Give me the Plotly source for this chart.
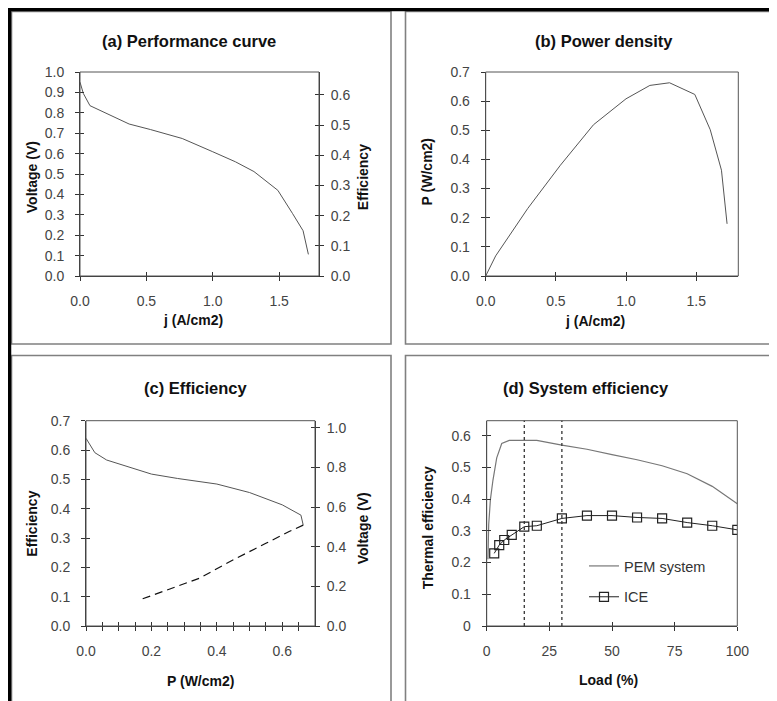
import plotly.graph_objects as go

# The page body has an 8px margin, so the figure is drawn 8px in from the window corner.
OFF = 8
W, H = 777 - OFF, 701 - OFF

# ---------------- data ----------------
# (a) performance curve: voltage vs current density
j_perf = [0.0, 0.025, 0.075, 0.37, 0.53, 0.77, 1.0, 1.17, 1.31, 1.49, 1.60, 1.68, 1.72]
voltage_perf = [0.95, 0.895, 0.835, 0.745, 0.718, 0.674, 0.609, 0.56, 0.512, 0.42, 0.307, 0.222, 0.106]

# (b) power density vs current density
j_power = [0.0, 0.071, 0.30, 0.532, 0.768, 1.0, 1.17, 1.31, 1.49, 1.60, 1.68, 1.72]
p_power = [0.0, 0.069, 0.232, 0.38, 0.519, 0.608, 0.654, 0.663, 0.623, 0.502, 0.363, 0.179]

# (c) efficiency vs power density (upper branch solid, lower branch dashed)
p_eff_upper = [0.0, 0.027, 0.063, 0.2, 0.28, 0.4, 0.5, 0.6, 0.657, 0.664]
eff_upper = [0.64, 0.591, 0.566, 0.518, 0.503, 0.484, 0.455, 0.413, 0.378, 0.344]
p_eff_lower = [0.664, 0.621, 0.55, 0.449, 0.347, 0.276, 0.164]
eff_lower = [0.344, 0.322, 0.282, 0.225, 0.163, 0.134, 0.089]

# (d) system efficiency vs load
load_pem = [0.5, 0.8, 1.5, 2.5, 4, 6, 9, 15, 20, 30, 40, 50, 60, 70, 80, 90, 100]
eff_pem = [0.21, 0.32, 0.40, 0.46, 0.53, 0.575, 0.585, 0.585, 0.585, 0.57, 0.557, 0.54,
           0.524, 0.505, 0.48, 0.44, 0.385]
load_ice = [3, 5, 7, 10, 15, 20, 30, 40, 50, 60, 70, 80, 90, 100]
eff_ice = [0.229, 0.255, 0.271, 0.287, 0.313, 0.316, 0.339, 0.348, 0.348, 0.342, 0.339,
           0.326, 0.316, 0.303]
marked_loads = [15, 30]

# tick labels
ticks_j = [0.0, 0.5, 1.0, 1.5]
ticks_voltage_a = [0.0, 0.1, 0.2, 0.3, 0.4, 0.5, 0.6, 0.7, 0.8, 0.9, 1.0]
ticks_eff_a = [0.0, 0.1, 0.2, 0.3, 0.4, 0.5, 0.6]
ticks_power_b = [0.0, 0.1, 0.2, 0.3, 0.4, 0.5, 0.6, 0.7]
ticks_p_c = [0.0, 0.2, 0.4, 0.6]
ticks_p_c_all = [0.0, 0.05, 0.1, 0.15, 0.2, 0.25, 0.3, 0.35, 0.4, 0.45, 0.5, 0.55, 0.6, 0.65]
ticks_eff_c = [0.0, 0.1, 0.2, 0.3, 0.4, 0.5, 0.6, 0.7]
ticks_voltage_c = [0.0, 0.2, 0.4, 0.6, 0.8, 1.0]
ticks_load = [0, 25, 50, 75, 100]
ticks_thermal = [0, 0.1, 0.2, 0.3, 0.4, 0.5, 0.6]

# ---------------- styling ----------------
FONT = "Liberation Sans, Arial, sans-serif"
AX = "#333333"
TICKFONT = dict(family=FONT, size=14, color="#444444")


def fx(p):
    return (p - OFF) / W


def fy(p):
    return 1 - (p - OFF) / H


def main_axis(rng, dom, anchor, tickvals, fmt=None, side=None, overlaying=None,
              standoff=7, minor=None):
    d = dict(range=rng, domain=dom, anchor=anchor, showline=True, linecolor=AX,
             linewidth=1, ticks="outside", ticklen=4, tickwidth=1,
             tickcolor=AX, showgrid=False, zeroline=False, tickfont=TICKFONT,
             tickmode="array", tickvals=tickvals, fixedrange=True, automargin=False,
             ticklabelstandoff=standoff)
    if fmt:
        d["tickformat"] = fmt
    if side:
        d["side"] = side
    if overlaying:
        d["overlaying"] = overlaying
    if minor:
        d["minor"] = minor
    return d


def twin_axis(rng, anchor, overlaying, tickvals, side=None):
    d = dict(range=rng, anchor=anchor, overlaying=overlaying, showline=False,
             ticks="inside", ticklen=4, tickwidth=1, tickcolor=AX,
             showticklabels=False, showgrid=False, zeroline=False, automargin=False,
             tickmode="array", tickvals=tickvals, fixedrange=True)
    if side:
        d["side"] = side
    return d


# pixel geometry of the four plot areas
A_X = [fx(80), fx(319)]
A_Y = [fy(276), fy(72)]
B_X = [fx(485.7), fx(738.3)]
B_Y = [fy(276), fy(72)]
C_X = [fx(86), fx(315)]
C_Y = [fy(626), fy(420.7)]
D_X = [fx(486.7), fx(737.3)]
D_Y = [fy(626), fy(420.7)]

R_J = [0, 1.8]
R_VA = [0, 1.0]
R_EA = [0, 0.676]
R_PB = [0, 0.7]
R_PC = [0, 0.7]
R_EC = [0, 0.7]
R_VC = [0, 1.036]
R_L = [0, 100]
R_T = [0, 0.647]

layout = dict(
    template="none",
    width=W, height=H, margin=dict(l=0, r=0, t=0, b=0, autoexpand=False),
    paper_bgcolor="white", plot_bgcolor="white",
    font=dict(family=FONT, color="#222"),
    # panel (a)
    xaxis=main_axis(R_J, A_X, "y", ticks_j, ".1f", standoff=8),
    yaxis=main_axis(R_VA, A_Y, "x", ticks_voltage_a, ".1f", standoff=8),
    yaxis2=main_axis(R_EA, A_Y, "x", ticks_eff_a, ".1f", side="right", overlaying="y", standoff=4),
    # panel (b)
    xaxis2=main_axis(R_J, B_X, "y3", ticks_j, ".1f", standoff=8),
    yaxis3=main_axis(R_PB, B_Y, "x2", ticks_power_b, ".1f", standoff=8),
    # panel (c)
    xaxis3=main_axis(R_PC, C_X, "y4", ticks_p_c, ".1f", standoff=8,
                     minor=dict(tickmode="array", tickvals=ticks_p_c_all, ticks="outside",
                                ticklen=4, tickcolor=AX, tickwidth=1)),
    yaxis4=main_axis(R_EC, C_Y, "x3", ticks_eff_c, ".1f", standoff=8),
    yaxis5=main_axis(R_VC, C_Y, "x3", ticks_voltage_c, ".1f", side="right", overlaying="y4", standoff=4),
    # panel (d)
    xaxis4=main_axis(R_L, D_X, "y6", ticks_load, standoff=8),
    yaxis6=main_axis(R_T, D_Y, "x4", ticks_thermal, standoff=8),
    # inside halves of the crossing tick marks
    xaxis5=twin_axis(R_J, "y", "x", ticks_j),
    yaxis7=twin_axis(R_VA, "x", "y", ticks_voltage_a),
    yaxis8=twin_axis(R_EA, "x", "y", ticks_eff_a, side="right"),
    xaxis6=twin_axis(R_J, "y3", "x2", ticks_j),
    yaxis9=twin_axis(R_PB, "x2", "y3", ticks_power_b),
    xaxis7=twin_axis(R_PC, "y4", "x3", ticks_p_c_all),
    yaxis10=twin_axis(R_EC, "x3", "y4", ticks_eff_c),
    yaxis11=twin_axis(R_VC, "x3", "y4", ticks_voltage_c, side="right"),
    xaxis8=twin_axis(R_L, "y6", "x4", ticks_load),
    yaxis12=twin_axis(R_T, "x4", "y6", ticks_thermal),
    showlegend=True,
    hovermode="closest",
    legend=dict(x=fx(584), y=fy(550), xanchor="left", yanchor="top",
                bgcolor="rgba(0,0,0,0)", borderwidth=0, tracegroupgap=9,
                font=dict(family=FONT, size=14.5, color="#333"),
                itemwidth=30),
)

fig = go.Figure(layout=layout)

# ---- data traces ----
fig.add_trace(go.Scatter(x=j_perf, y=voltage_perf, mode="lines", xaxis="x", yaxis="y",
                         line=dict(color="#555", width=1), showlegend=False))
fig.add_trace(go.Scatter(x=j_power, y=p_power, mode="lines", xaxis="x2", yaxis="y3",
                         line=dict(color="#555", width=1), showlegend=False))
fig.add_trace(go.Scatter(x=p_eff_upper, y=eff_upper, mode="lines", xaxis="x3", yaxis="y4",
                         line=dict(color="#555", width=1), showlegend=False))
fig.add_trace(go.Scatter(x=p_eff_lower, y=eff_lower, mode="lines", xaxis="x3", yaxis="y4",
                         line=dict(color="#111", width=1.2, dash="8px,5px"), showlegend=False))
fig.add_trace(go.Scatter(x=load_pem, y=eff_pem, mode="lines", xaxis="x4", yaxis="y6",
                         name="PEM system", legendgroup="pem",
                         line=dict(color="#777", width=1.2)))
fig.add_trace(go.Scatter(x=load_ice, y=eff_ice, mode="lines+markers", xaxis="x4", yaxis="y6",
                         name="ICE", legendgroup="ice",
                         line=dict(color="#222", width=1),
                         marker=dict(symbol="square-open", size=9, color="#222",
                                     line=dict(width=1.2, color="#222"))))

# empty traces so that every secondary / twin axis gets its subplot
for xa, ya in [("x", "y2"), ("x5", "y"), ("x", "y7"), ("x", "y8"),
               ("x6", "y3"), ("x2", "y9"),
               ("x3", "y5"), ("x7", "y4"), ("x3", "y10"), ("x3", "y11"),
               ("x8", "y6"), ("x4", "y12")]:
    fig.add_trace(go.Scatter(x=[None], y=[None], xaxis=xa, yaxis=ya, mode="lines",
                             showlegend=False, hoverinfo="skip"))

# ---- plot-area boxes ----
for xa, ya in [("x", "y"), ("x2", "y3"), ("x3", "y4"), ("x4", "y6")]:
    fig.add_shape(type="rect", xref=xa + " domain", yref=ya + " domain",
                  x0=0, x1=1, y0=0, y1=1, line=dict(color="#555", width=1),
                  fillcolor="rgba(0,0,0,0)")

# ---- dotted marker lines in panel (d) ----
for L in marked_loads:
    fig.add_shape(type="line", xref="x4", yref="y6 domain", x0=L, x1=L, y0=0, y1=1,
                  line=dict(color="#333", width=1.3, dash="dot"))

# ---- panel frames ----
frames = [(11.5, 11.5, 391, 344), (405.5, 11.5, 800, 344),
          (11.5, 355.5, 391, 720), (405.5, 355.5, 800, 720)]
for x0, y0, x1, y1 in frames:
    fig.add_shape(type="rect", xref="paper", yref="paper",
                  x0=fx(x0), x1=fx(x1), y0=fy(y1), y1=fy(y0),
                  line=dict(color="#808080", width=1.6), fillcolor="rgba(0,0,0,0)",
                  layer="below")
fig.add_shape(type="line", xref="paper", yref="paper", x0=fx(8), x1=fx(790),
              y0=fy(9.5), y1=fy(9.5), line=dict(color="black", width=3.5))
fig.add_shape(type="line", xref="paper", yref="paper", x0=fx(9.5), x1=fx(9.5),
              y0=fy(8), y1=fy(720), line=dict(color="black", width=3.5))

# ---- text: panel titles and axis titles ----
def note(text, x, y, size=14, angle=0):
    fig.add_annotation(text="<b>%s</b>" % text, xref="paper", yref="paper",
                       x=fx(x), y=fy(y), xanchor="center", yanchor="middle",
                       showarrow=False, textangle=angle,
                       font=dict(family=FONT, size=size, color="#111"))

note("(a) Performance curve", 189, 41, 16.5)
note("(b) Power density", 604, 41, 16.5)
note("(c) Efficiency", 196, 388, 16.5)
note("(d) System efficiency", 586, 388, 16.5)

note("j (A/cm2)", 192.5, 320)
note("Voltage (V)", 31.7, 177.5, angle=-90)
note("Efficiency", 362.7, 177.5, angle=-90)
note("j (A/cm2)", 595, 321)
note("P (W/cm2)", 426.7, 171.7, angle=-90)
note("P (W/cm2)", 200, 680.7)
note("Efficiency", 31.7, 524, angle=-90)
note("Voltage (V)", 363.3, 528, angle=-90)
note("Load (%)", 608.3, 680)
note("Thermal efficiency", 427.7, 527.5, angle=-90)

fig.write_html("out.html")
